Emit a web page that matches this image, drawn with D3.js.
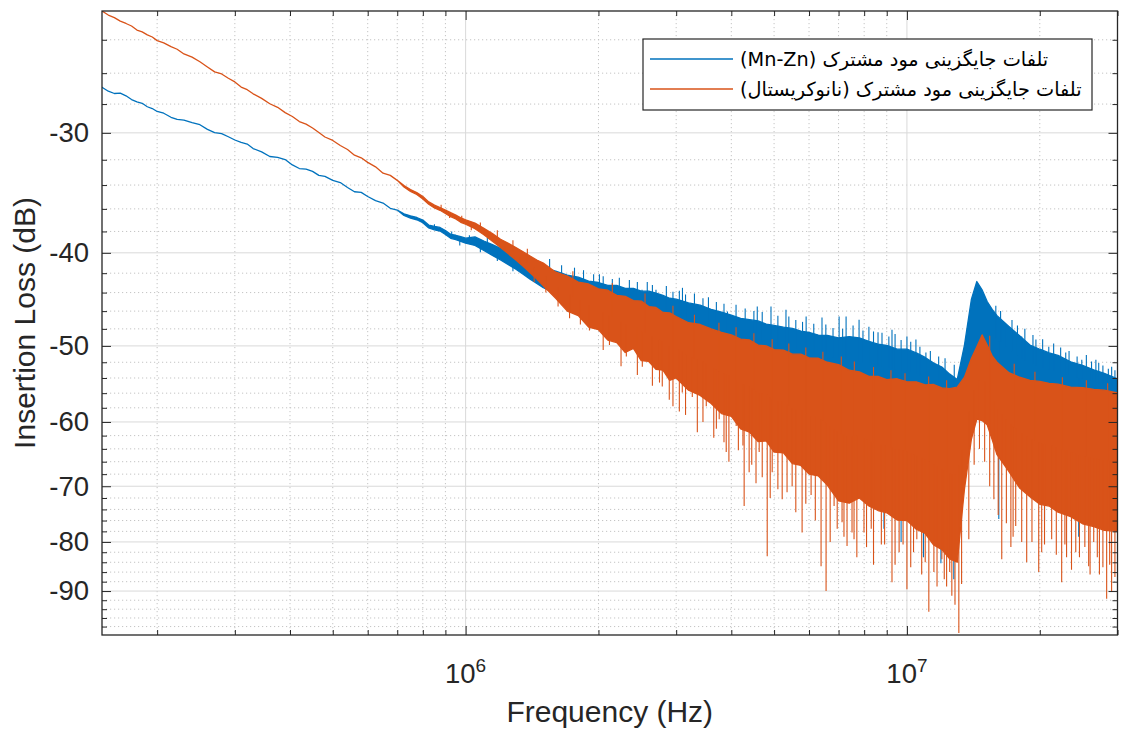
<!DOCTYPE html>
<html>
<head>
<meta charset="utf-8">
<script src="https://cdn.jsdelivr.net/npm/d3@7"></script>
<style>
  html, body { margin: 0; padding: 0; background: #fff; }
  svg { display: block; }
</style>
</head>
<body>
<svg id="chart" width="1124" height="735"></svg>
<script>
// ---- Common-mode insertion loss, two chokes (Mn-Zn ferrite vs nanocrystalline) ----

// Low-frequency part, where both traces are still thin lines (Hz, dB)
const freqTrend = [150e3, 155e3, 160e3, 165e3, 170e3, 175e3, 180e3, 185e3, 190e3, 195e3,
  200e3, 207e3, 215e3, 222e3, 230e3, 240e3, 250e3, 260e3, 270e3, 280e3,
  290e3, 300e3, 310e3, 320e3, 330e3, 345e3, 360e3, 375e3, 390e3, 405e3,
  420e3, 435e3, 450e3, 465e3, 480e3, 500e3, 520e3, 540e3, 560e3, 580e3,
  600e3, 625e3, 650e3, 675e3, 700e3];
const mnznTrend = [-26.90, -27.15, -27.30, -27.28, -27.45, -27.70, -27.85, -27.95, -28.18, -28.30,
  -28.50, -28.62, -28.90, -29.05, -29.10, -29.28, -29.42, -29.75, -29.98, -30.05,
  -30.28, -30.52, -30.70, -30.82, -31.15, -31.40, -31.75, -31.82, -31.98, -32.40,
  -32.68, -32.72, -32.90, -33.22, -33.30, -33.62, -33.80, -34.20, -34.55, -34.60,
  -34.95, -35.30, -35.50, -35.95, -36.10];
const nanoTrend = [-22.40, -22.62, -22.76, -22.95, -23.08, -23.22, -23.45, -23.55, -23.72, -23.84,
  -24.05, -24.18, -24.40, -24.55, -24.83, -25.02, -25.30, -25.62, -25.92, -26.05,
  -26.32, -26.55, -26.88, -27.05, -27.32, -27.62, -27.98, -28.22, -28.58, -28.85,
  -29.20, -29.38, -29.65, -29.98, -30.30, -30.55, -30.92, -31.22, -31.65, -31.85,
  -32.20, -32.55, -33.05, -33.22, -33.62];

// Noisy part: upper and lower edge of each trace per frequency bin (Hz, dB)
const freqBand = [725e3, 750e3, 775e3, 800e3, 825e3, 850e3, 875e3, 900e3, 925e3, 950e3,
  975e3, 1.0e6,
  1.05e6, 1.1e6, 1.15e6, 1.2e6, 1.25e6, 1.3e6, 1.35e6, 1.4e6, 1.45e6, 1.5e6,
  1.6e6, 1.7e6, 1.8e6, 1.9e6, 2.0e6, 2.1e6, 2.2e6, 2.3e6, 2.4e6, 2.5e6,
  2.6e6, 2.7e6, 2.8e6, 2.9e6, 3.0e6, 3.2e6, 3.4e6, 3.6e6, 3.8e6, 4.0e6,
  4.2e6, 4.4e6, 4.6e6, 4.8e6, 5.0e6, 5.25e6, 5.5e6, 5.75e6, 6.0e6, 6.3e6,
  6.6e6, 7.0e6, 7.4e6, 7.8e6, 8.2e6, 8.6e6, 9.0e6, 9.5e6, 10e6, 10.5e6,
  11e6, 11.5e6, 12e6, 12.5e6, 13e6, 13.5e6, 14e6, 14.4e6, 14.8e6, 15.2e6,
  15.6e6, 16e6, 17e6, 18e6, 19e6, 20e6, 21e6, 22e6, 23.5e6, 25e6,
  26.5e6, 28e6, 30e6];
const mnznUpper = [-36.43, -36.60, -36.75, -36.98, -37.42, -37.55, -37.64, -37.92, -38.27, -38.35,
  -38.48, -38.62,
  -38.5, -38.88, -39.22, -39.58, -39.95, -40.3, -40.68, -40.98, -41.25, -41.44,
  -41.8, -42.2, -42.4, -42.8, -42.95, -43.25, -43.25, -43.55, -43.55, -43.85,
  -43.85, -44.05, -44.3, -44.6, -44.7, -45.1, -45.35, -45.8, -46.1, -46.45,
  -46.8, -46.95, -47.1, -47.45, -47.6, -47.8, -47.95, -48.25, -48.4, -48.72,
  -48.75, -49.05, -48.9, -49.05, -49.45, -49.8, -49.95, -50.4, -50.4, -50.85,
  -51.4, -52.1, -52.6, -53.5, -54.2, -49.9, -44.7, -42.85, -43.7, -44.95,
  -45.8, -46.5, -47.7, -48.8, -49.9, -50.4, -50.85, -51.15, -51.95, -52.4,
  -52.95, -53.4, -54.1];
const mnznLower = [-36.57, -36.80, -36.95, -37.22, -37.68, -37.85, -37.96, -38.28, -38.63, -38.75,
  -38.92, -39.08,
  -39.3, -39.78, -40.25, -40.68, -41.15, -41.6, -42.1, -42.6, -43.05, -43.49,
  -44.1, -44.8, -45.2, -45.7, -46.0, -46.4, -46.7, -46.95, -47.2, -47.4,
  -47.6, -47.9, -48.1, -48.3, -48.6, -49.0, -49.5, -50.0, -50.4, -50.7,
  -51.1, -51.4, -51.7, -51.9, -52.2, -52.4, -52.7, -52.9, -53.2, -53.6,
  -53.8, -54.2, -54.6, -54.9, -55.1, -55.3, -55.5, -55.8, -55.9, -56.2,
  -56.5, -56.6, -56.9, -57.1, -57.2, -55.5, -52.9, -51.1, -50.5, -51.1,
  -51.7, -52.3, -53.2, -54.0, -54.5, -54.9, -55.1, -55.4, -55.7, -55.9,
  -56.2, -56.5, -56.9];
const nanoUpper = [-34.04, -34.37, -34.62, -34.95, -35.40, -35.68, -35.88, -36.10, -36.33, -36.53,
  -36.78, -36.95,
  -37.25, -37.72, -38.2, -38.72, -39.1, -39.5, -39.9, -40.3, -40.7, -41.0,
  -41.9, -42.3, -42.9, -43.1, -43.6, -43.75, -44.3, -44.4, -44.85, -44.9,
  -45.5, -45.6, -46.15, -46.2, -46.6, -47.3, -47.5, -48.0, -48.4, -48.7,
  -49.2, -49.3, -49.9, -50.0, -50.45, -50.5, -51.0, -51.0, -51.45, -51.5,
  -52.0, -52.3, -53.0, -53.2, -53.8, -53.8, -54.2, -54.1, -54.5, -54.5,
  -54.9, -54.85, -55.3, -55.4, -55.2, -53.9, -51.5, -50.1, -48.7, -49.9,
  -51.2, -52.0, -53.3, -53.9, -54.3, -54.45, -54.7, -54.8, -55.2, -55.25,
  -55.5, -55.6, -55.95];
const nanoLower = [-34.16, -34.53, -34.78, -35.15, -35.60, -35.92, -36.12, -36.40, -36.67, -36.87,
  -37.18, -37.35,
  -37.75, -38.3, -38.9, -39.5, -40.1, -40.7, -41.3, -41.95, -42.6, -43.3,
  -44.6, -46.0, -46.5, -47.8, -48.1, -49.3, -49.6, -50.8, -50.3, -51.8,
  -51.9, -52.9, -53.0, -54.3, -54.0, -55.6, -56.3, -57.4, -58.8, -59.2,
  -61.0, -61.5, -62.9, -62.8, -64.5, -64.6, -66.3, -66.6, -68.0, -68.3,
  -69.8, -72.5, -72.9, -72.0, -73.4, -74.2, -74.6, -75.9, -76.0, -77.6,
  -78.4, -80.6, -81.5, -83.3, -84.0, -70.5, -62.5, -59.6, -59.8, -60.4,
  -62.6, -64.9, -67.5, -70.3, -71.8, -73.1, -73.4, -74.5, -75.3, -76.6,
  -77.1, -77.8, -78.0];

// Isolated spikes that stick out of each band (Hz, dB)
const mnznSpikeFreq = [
  0.85e6, 0.93e6, 1.02e6, 1.12e6, 1.22e6, 1.32e6, 1.42e6,
  1.47e6, 1.55e6, 1.65e6, 1.765e6, 1.85e6, 1.95e6, 2.01e6, 2.05e6, 2.15e6, 2.23e6,
  2.35e6, 2.45e6, 2.51e6, 2.58e6, 2.65e6, 2.7e6, 2.85e6, 2.95e6, 3.05e6, 3.1e6,
  3.15e6, 3.3e6, 3.45e6, 3.55e6, 3.7e6, 3.85e6, 3.92e6, 4.1e6, 4.3e6, 4.5e6,
  4.58e6, 4.7e6, 4.92e6, 5.1e6, 5.32e6, 5.4e6, 5.6e6, 5.8e6, 5.91e6, 6.15e6,
  6.42e6, 6.55e6, 6.8e6, 7.02e6, 7.15e6, 7.28e6, 7.55e6, 7.79e6, 7.95e6, 8.2e6,
  8.4e6, 8.6e6, 8.78e6, 9.1e6, 9.25e6, 9.4e6, 9.7e6, 10e6, 10.2e6, 10.48e6,
  10.7e6, 11.04e6, 11.3e6, 11.8e6, 12.2e6, 12.8e6, 13.2e6, 15.9e6, 16.3e6, 16.75e6,
  17.3e6, 17.8e6, 18.2e6, 18.5e6, 19.3e6, 19.6e6, 20.3e6, 20.96e6, 21.5e6, 22.3e6,
  22.9e6, 23.3e6, 24.3e6, 24.9e6, 25.5e6, 26.2e6, 26.8e6, 27.2e6, 27.8e6, 28.6e6,
  29.1e6, 29.6e6,
  0.97e6, 1.08e6, 1.18e6, 1.28e6,
  8.87e6, 9.7e6, 10.9e6, 11.94e6, 12.77e6, 16.15e6, 20.5e6, 24.5e6];
const mnznSpikeDb = [
  -37.35, -38.0, -38.35, -38.55, -39.2, -39.95, -40.5,
  -41.15, -40.6, -41.2, -41.45, -41.7, -42.1, -42.1, -42.3, -42.6, -42.45,
  -42.7, -42.9, -43.7, -42.9, -43.2, -43.7, -43.3, -43.9, -43.8, -43.5,
  -44.2, -44.1, -44.6, -44.5, -45.0, -45.2, -46.05, -45.3, -45.7, -46.0,
  -45.5, -46.1, -45.5, -46.5, -45.85, -46.6, -47.0, -47.2, -46.6, -47.4,
  -46.7, -47.5, -47.9, -46.6, -48.0, -46.6, -47.6, -46.95, -48.2, -47.75,
  -48.3, -48.4, -48.45, -48.9, -48.1, -48.6, -49.3, -48.9, -49.5, -49.25,
  -50.1, -50.8, -50.6, -51.3, -51.5, -52.3, -52.8, -45.4, -46.0, -47.75,
  -47.0, -47.6, -48.9, -48.0, -48.7, -49.25, -49.2, -50.1, -49.7, -50.2,
  -50.8, -50.6, -51.3, -51.7, -51.1, -51.9, -51.7, -52.1, -52.4, -52.8,
  -52.55, -53.0,
  -39.3, -39.95, -40.8, -41.8,
  -77.5, -80.0, -83.0, -84.2, -87.5, -75.7, -76.0, -79.0];
const nanoSpikeFreq = [
  // downward
  0.92e6, 1.03e6, 1.13e6, 1.23e6, 1.33e6, 1.43e6, 1.52e6, 1.62e6, 1.72e6, 1.82e6,
  1.908e6, 2.05e6, 2.118e6, 2.25e6, 2.313e6, 2.45e6, 2.514e6, 2.65e6, 2.75e6, 2.79e6,
  2.894e6, 2.95e6, 3.05e6, 3.097e6, 3.15e6, 3.263e6, 3.35e6, 3.45e6, 3.51e6, 3.65e6,
  3.7e6, 3.755e6, 3.85e6, 3.895e6, 3.95e6, 4.103e6, 4.15e6, 4.25e6, 4.277e6, 4.39e6,
  4.45e6, 4.55e6, 4.626e6, 4.7e6, 4.824e6, 4.9e6, 4.951e6, 5.1e6, 5.216e6, 5.35e6,
  5.494e6, 5.6e6, 5.787e6, 5.9e6, 6.065e6, 6.2e6, 6.389e6, 6.558e6, 6.7e6, 6.838e6,
  6.95e6, 7.128e6, 7.2e6, 7.316e6, 7.509e6, 7.588e6, 7.7e6, 7.993e6, 8.1e6, 8.3e6,
  8.4e6, 8.75e6, 8.9e6, 9.25e6, 9.4e6, 9.6e6, 9.8e6, 10e6, 10.2e6, 10.35e6,
  10.53e6, 10.8e6, 11.0e6, 11.21e6, 11.51e6, 11.7e6, 12.0e6, 12.15e6, 12.3e6, 12.5e6,
  12.64e6, 12.85e6, 13.11e6, 13.3e6, 13.81e6, 14.2e6, 14.6e6, 15.0e6, 15.4e6, 15.74e6,
  16.1e6, 16.4e6, 16.8e6, 17.2e6, 17.4e6, 17.64e6, 18.2e6, 18.68e6, 19.2e6, 19.89e6,
  20.2e6, 20.5e6, 21.28e6, 21.8e6, 22.42e6, 22.8e6, 23e6, 23.6e6, 24.13e6, 24.6e6,
  25.3e6, 25.81e6, 26.0e6, 26.5e6, 27.0e6, 27.3e6, 27.8e6, 28.35e6, 28.8e6, 29.09e6,
  29.6e6,
  // upward
  0.88e6, 0.98e6, 1.08e6, 1.18e6, 1.28e6, 1.38e6,
  1.75e6, 2.15e6, 2.55e6, 2.95e6, 3.3e6, 3.75e6, 4.1e6, 4.5e6, 4.95e6, 5.4e6,
  5.9e6, 6.45e6, 7.1e6, 7.6e6, 8.4e6, 9.2e6, 9.9e6, 11.2e6, 12.3e6, 15.4e6,
  17.5e6, 19.5e6, 22.5e6, 25.5e6, 28.5e6];
const nanoSpikeDb = [
  -36.8, -37.9, -38.6, -39.8, -41.0, -42.9, -44.0, -45.5, -46.8, -47.5,
  -48.2, -50.5, -49.9, -52.5, -51.3, -53.6, -52.55, -55.0, -54.6, -55.1,
  -56.9, -57.8, -58.5, -55.9, -59.0, -56.5, -61.5, -60.0, -57.8, -62.3,
  -61.0, -59.6, -63.0, -64.5, -66.0, -60.6, -64.2, -63.5, -73.4, -67.7,
  -66.5, -69.5, -64.5, -68.5, -82.8, -72.0, -67.7, -70.5, -72.2, -71.0,
  -70.0, -74.5, -78.2, -73.0, -71.5, -76.0, -84.8, -90.0, -80.0, -73.4,
  -77.5, -76.3, -79.0, -80.8, -78.2, -79.5, -83.0, -78.2, -81.0, -77.5,
  -84.5, -80.5, -80.5, -88.1, -84.5, -82.0, -80.5, -89.6, -85.0, -82.0,
  -79.5, -86.5, -84.0, -94.6, -86.0, -89.0, -83.4, -87.5, -89.0, -86.0,
  -91.0, -93.0, -99.5, -88.5, -79.5, -66.5, -64.0, -66.0, -70.0, -72.2,
  -75.0, -83.4, -76.5, -81.0, -79.0, -77.0, -80.0, -84.0, -80.0, -86.0,
  -82.0, -80.5, -79.5, -82.5, -88.1, -80.5, -83.0, -85.5, -82.0, -83.0,
  -81.0, -84.8, -86.5, -80.0, -83.0, -86.5, -85.0, -91.7, -84.5, -90.2,
  -87.0,
  -35.65, -36.6, -37.2, -37.9, -38.8, -39.6,
  -41.8, -43.0, -44.1, -45.4, -46.4, -47.3, -47.8, -48.5, -49.2, -49.7,
  -50.2, -50.7, -51.3, -51.9, -52.6, -53.0, -53.4, -53.8, -54.3, -48.8,
  -52.2, -53.2, -53.9, -54.3, -54.7];

const seriesNames = ["تلفات جایگزینی مود مشترک (Mn-Zn)", "تلفات جایگزینی مود مشترک (نانوکریستال)"];
const seriesColors = ["#0072BD", "#D95319"];

// Axis ticks
const xMajorTicks = [1e6, 1e7];
const xMajorExponents = ["6", "7"];
const xMinorTicks = [2e5, 3e5, 4e5, 5e5, 6e5, 7e5, 8e5, 9e5,
  2e6, 3e6, 4e6, 5e6, 6e6, 7e6, 8e6, 9e6, 2e7, 3e7];
const yMajorTicks = [-30, -40, -50, -60, -70, -80, -90];
const yMajorLabels = ["-30", "-40", "-50", "-60", "-70", "-80", "-90"];
const yMinorTicks = [-24, -26, -28, -32, -34, -36, -38, -42, -44, -46, -48,
  -52, -54, -56, -58, -62, -64, -66, -68, -72, -74, -76, -78,
  -82, -84, -86, -88, -92, -94, -96, -98];
const xLimits = [1.5e5, 3e7];
const yLimits = [-22.4, -100];

// ---- layout ----
const L = 102, R = 1117.5, T = 11, B = 635;
const axisColor = "#262626";
const font = "'Liberation Sans', Arial, Helvetica, sans-serif";

const svg = d3.select("#chart");

const x = d3.scaleLog().domain(xLimits).range([L, R]);
// the loss axis is logarithmic in the magnitude of the dB value
const yMag = d3.scaleLog().domain(yLimits.map(v => -v)).range([T, B]);
const y = db => yMag(-db);

// ---- grid ----
const grid = svg.append("g");
grid.selectAll(".xminor").data(xMinorTicks).join("line")
  .attr("x1", d => x(d)).attr("x2", d => x(d)).attr("y1", T).attr("y2", B)
  .attr("stroke", "#c4c4c4").attr("stroke-width", 1).attr("stroke-dasharray", "1.2,2.8");
grid.selectAll(".yminor").data(yMinorTicks).join("line")
  .attr("x1", L).attr("x2", R).attr("y1", d => y(d)).attr("y2", d => y(d))
  .attr("stroke", "#c4c4c4").attr("stroke-width", 1).attr("stroke-dasharray", "1.2,2.8");
grid.selectAll(".xmajor").data(xMajorTicks).join("line")
  .attr("x1", d => x(d)).attr("x2", d => x(d)).attr("y1", T).attr("y2", B)
  .attr("stroke", "#d9d9d9").attr("stroke-width", 1);
grid.selectAll(".ymajor").data(yMajorTicks).join("line")
  .attr("x1", L).attr("x2", R).attr("y1", d => y(d)).attr("y2", d => y(d))
  .attr("stroke", "#d9d9d9").attr("stroke-width", 1);

// ---- traces ----
svg.append("clipPath").attr("id", "plotclip")
  .append("rect").attr("x", L).attr("y", T).attr("width", R - L).attr("height", B - T);
const plot = svg.append("g").attr("clip-path", "url(#plotclip)");

function buildBand(trend, upper, lower) {
  const pts = freqTrend.map((f, i) => ({ f, hi: trend[i], lo: trend[i] }));
  freqBand.forEach((f, i) => pts.push({ f, hi: upper[i], lo: lower[i] }));
  return pts;
}

const bands = [
  buildBand(mnznTrend, mnznUpper, mnznLower),
  buildBand(nanoTrend, nanoUpper, nanoLower)
];
const spikes = [
  mnznSpikeFreq.map((f, i) => ({ f, v: mnznSpikeDb[i] })),
  nanoSpikeFreq.map((f, i) => ({ f, v: nanoSpikeDb[i] }))
];

const area = d3.area()
  .x(d => x(d.f)).y0(d => y(d.lo)).y1(d => y(d.hi));

// vertical centre of a band at frequency f (pixel space)
const bis = d3.bisector(d => d.f).left;
function bandMid(pts, f) {
  const i = bis(pts, f);
  if (i <= 0) return (y(pts[0].hi) + y(pts[0].lo)) / 2;
  if (i >= pts.length) { const p = pts[pts.length - 1]; return (y(p.hi) + y(p.lo)) / 2; }
  const a = pts[i - 1], b = pts[i];
  const t = (x(f) - x(a.f)) / (x(b.f) - x(a.f));
  const ma = (y(a.hi) + y(a.lo)) / 2, mb = (y(b.hi) + y(b.lo)) / 2;
  return ma + t * (mb - ma);
}

bands.forEach((pts, s) => {
  const g = plot.append("g");
  g.append("path").datum(pts)
    .attr("d", area)
    .attr("fill", seriesColors[s])
    .attr("stroke", seriesColors[s])
    .attr("stroke-width", 1.3)
    .attr("stroke-linejoin", "round");
  g.selectAll("line").data(spikes[s]).join("line")
    .attr("x1", d => x(d.f)).attr("x2", d => x(d.f))
    .attr("y1", d => bandMid(pts, d.f)).attr("y2", d => y(d.v))
    .attr("stroke", seriesColors[s]).attr("stroke-width", 1.1);
});

// ---- axes (ticks point inward, box on) ----
function styleAxis(g) {
  g.select(".domain").remove();
  g.selectAll(".tick line").attr("stroke", axisColor).attr("stroke-width", 1);
}
[[d3.axisBottom, B], [d3.axisTop, T]].forEach(([axisFn, pos]) => {
  svg.append("g").attr("transform", `translate(0,${pos})`)
    .call(axisFn(x).tickValues(xMinorTicks).tickSizeInner(-5).tickSizeOuter(0).tickFormat(""))
    .call(styleAxis);
  svg.append("g").attr("transform", `translate(0,${pos})`)
    .call(axisFn(x).tickValues(xMajorTicks).tickSizeInner(-9).tickSizeOuter(0).tickFormat(""))
    .call(styleAxis);
});
[[d3.axisLeft, L], [d3.axisRight, R]].forEach(([axisFn, pos]) => {
  svg.append("g").attr("transform", `translate(${pos},0)`)
    .call(axisFn(yMag).tickValues(yMinorTicks.map(v => -v)).tickSizeInner(-5).tickSizeOuter(0).tickFormat(""))
    .call(styleAxis);
});
svg.append("g").attr("transform", `translate(${R},0)`)
  .call(d3.axisRight(yMag).tickValues(yMajorTicks.map(v => -v)).tickSizeInner(-9).tickSizeOuter(0).tickFormat(""))
  .call(styleAxis);

const yAxis = svg.append("g").attr("transform", `translate(${L},0)`)
  .call(d3.axisLeft(yMag).tickValues(yMajorTicks.map(v => -v))
    .tickSizeInner(-9).tickSizeOuter(0).tickPadding(13)
    .tickFormat((d, i) => yMajorLabels[i]))
  .call(styleAxis);
yAxis.selectAll(".tick text")
  .attr("fill", axisColor).style("font-family", font).style("font-size", "27.5px");

// x tick labels as powers of ten
const xl = svg.append("g");
xMajorTicks.forEach((f, i) => {
  const t = xl.append("text")
    .attr("x", x(f)).attr("y", 683)
    .attr("text-anchor", "middle")
    .attr("fill", axisColor)
    .style("font-family", font).style("font-size", "27.5px");
  t.append("tspan").text("10");
  t.append("tspan").attr("dy", -11).style("font-size", "19px").text(xMajorExponents[i]);
});

// box
svg.append("rect")
  .attr("x", L).attr("y", T).attr("width", R - L).attr("height", B - T)
  .attr("fill", "none").attr("stroke", axisColor).attr("stroke-width", 1.3);

// axis titles
svg.append("text")
  .attr("x", (L + R) / 2).attr("y", 722)
  .attr("text-anchor", "middle").attr("fill", axisColor)
  .style("font-family", font).style("font-size", "30px")
  .text("Frequency (Hz)");
svg.append("text")
  .attr("transform", `translate(35,${(T + B) / 2}) rotate(-90)`)
  .attr("text-anchor", "middle").attr("fill", axisColor)
  .style("font-family", font).style("font-size", "30px")
  .text("Insertion Loss (dB)");

// ---- legend ----
const lg = svg.append("g");
lg.append("rect")
  .attr("x", 643).attr("y", 39).attr("width", 449).attr("height", 71)
  .attr("fill", "#fff").attr("stroke", axisColor).attr("stroke-width", 1.2);
seriesNames.forEach((name, i) => {
  const cy = 59 + i * 30;
  lg.append("line")
    .attr("x1", 650).attr("x2", 733).attr("y1", cy).attr("y2", cy)
    .attr("stroke", seriesColors[i]).attr("stroke-width", 1.3);
  lg.append("text")
    .attr("x", 740).attr("y", cy).attr("dy", "0.35em")
    .attr("direction", "rtl")
    .style("direction", "rtl")
    .attr("text-anchor", "end")
    .attr("fill", "#000")
    .style("font-family", "'DejaVu Sans', 'Noto Sans', sans-serif")
    .style("font-size", "19.3px")
    .text(name);
});
</script>
</body>
</html>
